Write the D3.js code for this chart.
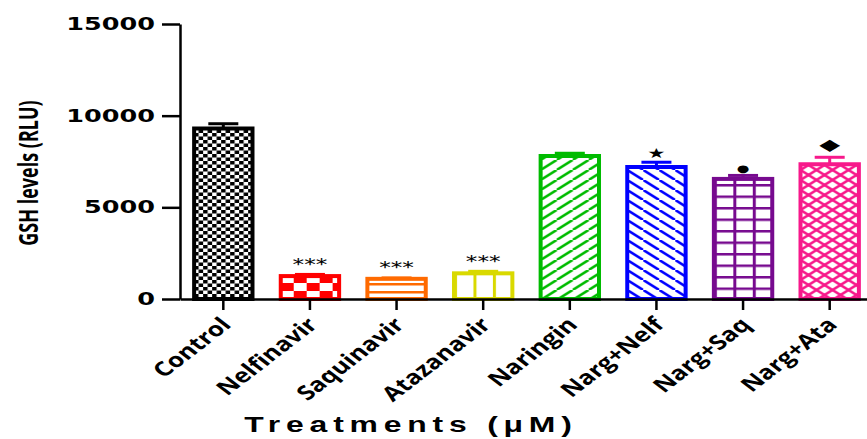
<!DOCTYPE html>
<html>
<head>
<meta charset="utf-8">
<script src="https://cdn.jsdelivr.net/npm/d3@7/dist/d3.min.js"></script>
<style>
  html, body { margin: 0; padding: 0; background: #fff; }
  svg { display: block; }
</style>
</head>
<body>
<svg id="chart" width="867" height="439"></svg>
<script>
// GSH levels per treatment (RLU), mean and error
const categories = ["Control", "Nelfinavir", "Saquinavir", "Atazanavir", "Naringin", "Narg+Nelf", "Narg+Saq", "Narg+Ata"];
const means = [9300, 1250, 1100, 1400, 7800, 7200, 6550, 7350];
const errors = [260, 90, 50, 110, 150, 260, 190, 380];
const marks = ["", "***", "***", "***", "", "\u2605", "\u25CF", "\u25C6"];
const yTicks = [0, 5000, 10000, 15000];

const colors = ["#000000", "#ff0000", "#ff6a00", "#d9d900", "#00bb00", "#0000ff", "#770a8f", "#f7198b"];

// significance symbol styling: font size, horizontal stretch, offset above the error cap
const markStyle = {
  "***": { size: 16, sx: 1.45, off: 14 },
  "\u2605": { size: 14, sx: 1.45, off: 9 },
  "\u25CF": { size: 10, sx: 1.45, off: 7 },
  "\u25C6": { size: 16, sx: 1.7, off: 13 }
};

const svg = d3.select("#chart");
const defs = svg.append("defs");

const y = d3.scaleLinear().domain([0, 15000]).range([299, 24]);
const x = d3.scaleBand().domain(categories).range([180, 873]).paddingInner(0.28).paddingOuter(0.14);
const bw = x.bandwidth();

// fill patterns, one per treatment
categories.forEach((c, i) => {
  const col = colors[i];
  const bx = x(c) + 2, w = bw - 4;
  const p = defs.append("pattern").attr("id", "pat" + i).attr("patternUnits", "userSpaceOnUse");
  if (i === 0) {
    p.attr("width", 9).attr("height", 7).attr("x", bx);
    p.append("rect").attr("width", 9).attr("height", 7).attr("fill", "#fff");
    p.append("rect").attr("width", 4.5).attr("height", 3.5).attr("fill", col);
    p.append("rect").attr("x", 4.5).attr("y", 3.5).attr("width", 4.5).attr("height", 3.5).attr("fill", col);
  } else if (i === 1) {
    p.attr("width", w / 2.25).attr("height", 16).attr("x", bx).attr("y", y(0));
    p.append("rect").attr("width", w / 2.25).attr("height", 16).attr("fill", "#fff");
    p.append("rect").attr("width", w / 4.5).attr("height", 8).attr("fill", col);
    p.append("rect").attr("x", w / 4.5).attr("y", 8).attr("width", w / 4.5).attr("height", 8).attr("fill", col);
  } else if (i === 2) {
    p.attr("width", 10).attr("height", 8).attr("y", y(0));
    p.append("rect").attr("width", 10).attr("height", 8).attr("fill", "#fff");
    p.append("line").attr("x1", 0).attr("x2", 10).attr("y1", 0).attr("y2", 0).attr("stroke", col).attr("stroke-width", 5);
  } else if (i === 3 || i === 6) {
    const h = i === 3 ? 10 : 11.5;
    p.attr("width", w / 3).attr("height", h).attr("x", bx).attr("y", y(0));
    p.append("rect").attr("width", w / 3).attr("height", h).attr("fill", "#fff");
    p.append("line").attr("x1", 0).attr("x2", 0).attr("y1", 0).attr("y2", h).attr("stroke", col).attr("stroke-width", 6);
    if (i === 6) p.append("line").attr("x1", 0).attr("x2", w / 3).attr("y1", 0).attr("y2", 0).attr("stroke", col).attr("stroke-width", 5);
  } else {
    const W = 16, H = 10;
    p.attr("width", W).attr("height", H).attr("x", bx);
    p.append("rect").attr("width", W).attr("height", H).attr("fill", "#fff");
    const up = `M0,${H} L${W},0 M${-W},${H} L0,0 M${W},${2 * H} L${2 * W},${H}`;
    const down = `M0,0 L${W},${H} M${-W},${-H} L0,0 M${W},${H} L${2 * W},${2 * H}`;
    if (i === 4 || i === 7) p.append("path").attr("d", up).attr("stroke", col).attr("stroke-width", 2.6).attr("fill", "none");
    if (i === 5 || i === 7) p.append("path").attr("d", down).attr("stroke", col).attr("stroke-width", 2.6).attr("fill", "none");
  }
});

const data = categories.map((c, i) => ({ c, i, v: means[i], e: errors[i], m: marks[i] }));

// error bars
const eb = svg.append("g").selectAll("g").data(data).join("g");
eb.append("line")
  .attr("x1", d => x(d.c) + bw / 2).attr("x2", d => x(d.c) + bw / 2)
  .attr("y1", d => y(d.v)).attr("y2", d => y(d.v + d.e))
  .attr("stroke", d => colors[d.i]).attr("stroke-width", 3);
eb.append("line")
  .attr("x1", d => x(d.c) + bw / 2 - 15).attr("x2", d => x(d.c) + bw / 2 + 15)
  .attr("y1", d => y(d.v + d.e)).attr("y2", d => y(d.v + d.e))
  .attr("stroke", d => colors[d.i]).attr("stroke-width", 3);

// bars
svg.append("g").selectAll("rect").data(data).join("rect")
  .attr("x", d => x(d.c) + 2)
  .attr("width", bw - 4)
  .attr("y", d => y(d.v))
  .attr("height", d => y(0) - y(d.v))
  .attr("fill", d => `url(#pat${d.i})`)
  .attr("stroke", d => colors[d.i])
  .attr("stroke-width", 4);

// significance marks
svg.append("g").selectAll("text").data(data.filter(d => d.m)).join("text")
  .attr("transform", d => `translate(${x(d.c) + bw / 2},${y(d.v + d.e) - markStyle[d.m].off}) scale(${markStyle[d.m].sx},1)`)
  .attr("text-anchor", "middle")
  .attr("dominant-baseline", "central")
  .attr("dy", d => d.m === "***" ? "0.25em" : 0)
  .attr("font-family", "DejaVu Sans")
  .attr("font-size", d => markStyle[d.m].size)
  .attr("fill", "#000")
  .text(d => d.m);

// y axis
const gy = svg.append("g").attr("transform", "translate(180,0)")
  .call(d3.axisLeft(y).tickValues(yTicks).tickFormat(d3.format("d")).tickSize(18).tickSizeOuter(0));
gy.selectAll("path, line").attr("stroke", "#000").attr("stroke-width", 2.5);
gy.selectAll("text")
  .attr("x", -25 / 1.5)
  .attr("transform", "scale(1.5,1)")
  .attr("font-family", "DejaVu Sans").attr("font-weight", "bold").attr("font-size", 17)
  .attr("fill", "#000");

// x axis
const gx = svg.append("g").attr("transform", "translate(0,299)")
  .call(d3.axisBottom(x).tickSize(11).tickSizeOuter(0));
gx.selectAll("path, line").attr("stroke", "#000").attr("stroke-width", 2.5);
gx.selectAll("text").remove();
gx.selectAll(".tick").append("text")
  .attr("transform", "translate(9,27) scale(1.3,1) rotate(-45)")
  .attr("text-anchor", "end")
  .attr("font-family", "Open Sans").attr("font-weight", "bold").attr("font-size", 20)
  .attr("fill", "#000")
  .text(d => d);

// axis titles
svg.append("text")
  .attr("transform", "translate(27,173) scale(1.5,1) rotate(-90)")
  .attr("text-anchor", "middle")
  .attr("dominant-baseline", "central")
  .attr("font-family", "Open Sans").attr("font-weight", "bold").attr("font-size", 18)
  .attr("fill", "#000")
  .text("GSH levels (RLU)");

svg.append("text")
  .attr("transform", "translate(411,432) scale(1.45,1)")
  .attr("text-anchor", "middle")
  .attr("font-family", "Liberation Sans").attr("font-weight", "bold").attr("font-size", 22)
  .attr("letter-spacing", 4)
  .attr("fill", "#000")
  .text("Treatments (\u03BCM)");
</script>
</body>
</html>
